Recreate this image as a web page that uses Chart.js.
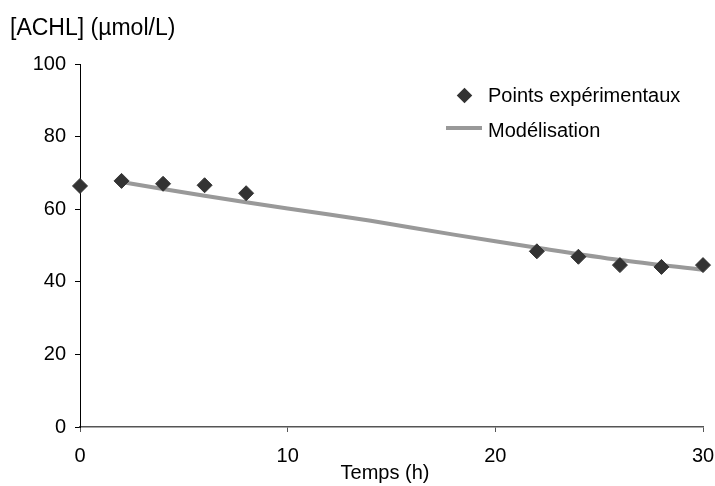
<!DOCTYPE html>
<html lang="fr">
<head>
<meta charset="UTF-8" />
<title>ACHL en fonction du temps</title>
<script src="https://cdn.jsdelivr.net/npm/chart.js"></script>
<style>
  html, body {
    margin: 0;
    padding: 0;
    background: #fff;
    font-family: 'Liberation Sans', Arial, sans-serif;
  }
  #wrap {
    position: relative;
    width: 715px;
    height: 486px;
  }
  #yTitle {
    position: absolute;
    left: 10px;
    top: 16px;
    font-size: 23px;
    line-height: 23px;
    color: #000;
  }
  #xTitle {
    position: absolute;
    left: 285px;
    width: 200px;
    top: 462px;
    text-align: center;
    font-size: 20px;
    line-height: 20px;
    color: #000;
  }
  .leg {
    position: absolute;
    left: 488px;
    font-size: 20px;
    line-height: 20px;
    color: #000;
  }
  .legDiamond {
    position: absolute;
    left: 459px;
    top: 90px;
    width: 11px;
    height: 11px;
    background: #333;
    transform: rotate(45deg);
  }
  .legLine {
    position: absolute;
    left: 446px;
    top: 126px;
    width: 36px;
    height: 4px;
    background: #999;
  }
</style>
</head>
<body>
<div id="wrap">
  <canvas id="chart" width="715" height="486"></canvas>
  <div id="yTitle">[ACHL] (µmol/L)</div>
  <div id="xTitle">Temps (h)</div>
  <div class="legDiamond"></div>
  <div class="leg" style="top:85px;">Points expérimentaux</div>
  <div class="legLine"></div>
  <div class="leg" style="top:120px;">Modélisation</div>
</div>

<script>
  // points expérimentaux (temps en h, concentration en µmol/L)
  const timeExp = [0, 2, 4, 6, 8, 22, 24, 26, 28, 30];
  const concExp = [66.4, 67.8, 67.0, 66.6, 64.4, 48.4, 46.9, 44.6, 44.1, 44.6];

  // courbe de modélisation
  const timeModel = [2, 6, 10, 14, 18, 22, 26, 30];
  const concModel = [67.5, 63.7, 60.2, 56.8, 53.0, 49.4, 46.0, 43.3];

  const xTicks = [0, 10, 20, 30];
  const yTicks = [0, 20, 40, 60, 80, 100];

  const toXY = (xs, ys) => xs.map((x, i) => ({ x: x, y: ys[i] }));

  const font = { family: "'Liberation Sans', Arial, sans-serif", size: 20 };

  new Chart(document.getElementById('chart'), {
    type: 'scatter',
    data: {
      datasets: [
        {
          label: 'Points expérimentaux',
          data: toXY(timeExp, concExp),
          pointStyle: 'rectRot',
          pointRadius: 7.5,
          pointBackgroundColor: '#333',
          pointBorderColor: '#333',
          pointBorderWidth: 1,
          clip: false,
          order: 0
        },
        {
          label: 'Modélisation',
          type: 'line',
          data: toXY(timeModel, concModel),
          borderColor: '#999',
          borderWidth: 4,
          pointRadius: 0,
          tension: 0.3,
          fill: false,
          clip: false,
          order: 1
        }
      ]
    },
    options: {
      responsive: false,
      animation: false,
      layout: { padding: { top: 64, right: 0, left: 0, bottom: 0 } },
      plugins: {
        legend: { display: false },
        tooltip: { enabled: false }
      },
      scales: {
        x: {
          type: 'linear',
          min: 0,
          max: 30,
          afterBuildTicks: (s) => { s.ticks = xTicks.map(v => ({ value: v })); },
          afterFit: (s) => { s.height = 59; s.paddingRight = 12; s.paddingLeft = 0; },
          grid: { drawOnChartArea: false, drawTicks: true, tickLength: 5, color: '#555' },
          border: { color: '#555', width: 1.5 },
          ticks: { color: '#000', font: font, padding: 12, maxRotation: 0 }
        },
        y: {
          min: 0,
          max: 100,
          afterBuildTicks: (s) => { s.ticks = yTicks.map(v => ({ value: v })); },
          afterFit: (s) => { s.width = 80; },
          grid: { drawOnChartArea: false, drawTicks: true, tickLength: 5, color: '#000' },
          border: { color: '#000', width: 1 },
          ticks: { color: '#000', font: font, padding: 9 }
        }
      }
    }
  });
</script>
</body>
</html>
